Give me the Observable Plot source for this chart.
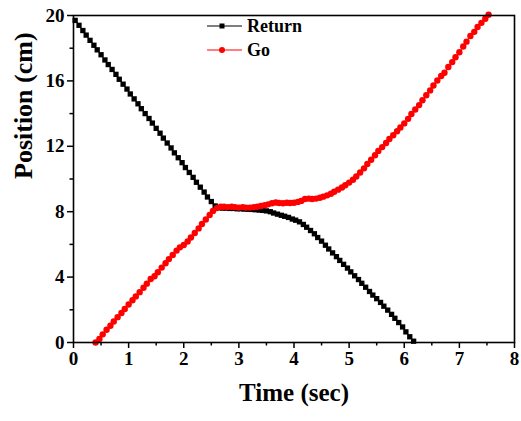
<!DOCTYPE html>
<html>
<head>
<meta charset="utf-8">
<script src="https://cdn.jsdelivr.net/npm/d3@7"></script>
<script src="https://cdn.jsdelivr.net/npm/@observablehq/plot@0.6"></script>
<style>
  html, body { margin: 0; padding: 0; background: white; }
</style>
</head>
<body>
<div id="chart"></div>
<script>
// ---- data ----
const seriesNames = ["Return", "Go"];
const xLabel = "Time (sec)";
const yLabel = "Position (cm)";
const xMajorTicks = [0, 1, 2, 3, 4, 5, 6, 7, 8];
const xMinorTicks = [0.5, 1.5, 2.5, 3.5, 4.5, 5.5, 6.5, 7.5];
const yMajorTicks = [0, 4, 8, 12, 16, 20];
const yMinorTicks = [2, 6, 10, 14, 18];

const returnT = [0.03,0.10,0.17,0.23,0.30,0.37,0.43,0.50,0.57,0.63,0.70,0.77,0.83,0.90,0.97,1.03,1.10,1.17,1.23,1.30,1.37,1.43,1.50,1.57,1.63,1.70,1.77,1.83,1.90,1.97,2.03,2.10,2.17,2.23,2.30,2.37,2.43,2.50,2.57,2.63,2.70,2.77,2.83,2.90,2.97,3.03,3.10,3.17,3.23,3.30,3.37,3.43,3.50,3.57,3.63,3.70,3.77,3.83,3.90,3.97,4.03,4.10,4.17,4.23,4.30,4.37,4.43,4.50,4.57,4.63,4.70,4.77,4.83,4.90,4.97,5.03,5.10,5.17,5.23,5.30,5.37,5.43,5.50,5.57,5.63,5.70,5.77,5.83,5.90,5.97,6.03,6.10,6.17];
const returnY = [19.70,19.40,19.08,18.80,18.48,18.18,17.90,17.60,17.28,17.00,16.70,16.40,16.10,15.80,15.50,15.20,14.90,14.60,14.30,14.00,13.70,13.42,13.10,12.80,12.50,12.20,11.90,11.60,11.30,11.00,10.70,10.40,10.10,9.80,9.50,9.20,8.90,8.62,8.35,8.25,8.22,8.22,8.20,8.20,8.18,8.18,8.16,8.15,8.14,8.12,8.10,8.08,8.05,8.00,7.92,7.85,7.78,7.72,7.65,7.55,7.48,7.38,7.22,7.05,6.85,6.65,6.42,6.20,5.95,5.72,5.48,5.25,5.02,4.78,4.55,4.32,4.08,3.85,3.62,3.38,3.12,2.90,2.68,2.45,2.22,1.98,1.72,1.48,1.22,0.95,0.65,0.35,0.08];

const goT = [0.40,0.47,0.53,0.60,0.67,0.73,0.80,0.87,0.93,1.00,1.07,1.13,1.20,1.27,1.33,1.40,1.47,1.53,1.60,1.67,1.73,1.80,1.87,1.93,2.00,2.07,2.13,2.20,2.27,2.33,2.40,2.47,2.53,2.60,2.67,2.73,2.80,2.87,2.93,3.00,3.07,3.13,3.20,3.27,3.33,3.40,3.47,3.53,3.60,3.67,3.73,3.80,3.87,3.93,4.00,4.07,4.13,4.20,4.27,4.33,4.40,4.47,4.53,4.60,4.67,4.73,4.80,4.87,4.93,5.00,5.07,5.13,5.20,5.27,5.33,5.40,5.47,5.53,5.60,5.67,5.73,5.80,5.87,5.93,6.00,6.07,6.13,6.20,6.27,6.33,6.40,6.47,6.53,6.60,6.67,6.73,6.80,6.87,6.93,7.00,7.07,7.13,7.20,7.27,7.33,7.40,7.47,7.53];
const goY = [0.00,0.22,0.50,0.78,1.02,1.28,1.55,1.80,2.05,2.32,2.58,2.82,3.08,3.35,3.60,3.88,4.05,4.30,4.58,4.85,5.10,5.35,5.62,5.82,5.96,6.18,6.42,6.70,6.98,7.25,7.52,7.80,8.05,8.22,8.30,8.30,8.28,8.30,8.28,8.25,8.28,8.25,8.25,8.28,8.30,8.35,8.40,8.45,8.52,8.56,8.53,8.52,8.55,8.53,8.55,8.60,8.66,8.78,8.80,8.78,8.80,8.85,8.92,9.00,9.10,9.22,9.35,9.48,9.62,9.78,9.95,10.15,10.40,10.65,10.92,11.18,11.45,11.72,11.95,12.20,12.45,12.68,12.92,13.15,13.40,13.68,13.98,14.25,14.52,14.82,15.12,15.42,15.72,16.02,16.30,16.50,16.85,17.15,17.45,17.75,18.10,18.40,18.75,19.00,19.30,19.55,19.80,20.05];

const returnData = returnT.map((t, i) => ({t, y: returnY[i]}));
const goData = goT.map((t, i) => ({t, y: goY[i]}));

const serif = "'Liberation Serif', 'Times New Roman', 'DejaVu Serif', serif";

const chart = Plot.plot({
  width: 521,
  height: 421,
  marginLeft: 73,
  marginRight: 7,
  marginTop: 15,
  marginBottom: 79,
  style: {fontFamily: serif, fontWeight: "bold", fontSize: "18px", background: "white", color: "black", overflow: "visible"},
  x: {domain: [0, 8]},
  y: {domain: [0, 20]},
  marks: [
    Plot.axisX(xMajorTicks, {tickSize: 6, tickPadding: 3, tickFormat: d => String(d), label: null, fontSize: 19, strokeWidth: 1.5}),
    Plot.axisX(xMinorTicks, {tickSize: 3.5, tickFormat: () => "", label: null, strokeWidth: 1.5}),
    Plot.axisY(yMajorTicks, {tickSize: 6, tickPadding: 3, tickFormat: d => String(d), label: null, fontSize: 19, strokeWidth: 1.5}),
    Plot.axisY(yMinorTicks, {tickSize: 3.5, tickFormat: () => "", label: null, strokeWidth: 1.5}),
    Plot.line(returnData, {x: "t", y: "y", stroke: "black", strokeWidth: 1}),
    Plot.dot(returnData, {x: "t", y: "y", symbol: "square", fill: "black", r: 3}),
    Plot.line(goData, {x: "t", y: "y", stroke: "red", strokeWidth: 1}),
    Plot.dot(goData, {x: "t", y: "y", symbol: "circle", fill: "red", r: 3.2}),
    Plot.frame({stroke: "black", strokeWidth: 1.6}),
    Plot.text([xLabel], {frameAnchor: "bottom", dy: 58, fontSize: 25, fontWeight: "bold", fill: "black"}),
    Plot.text([yLabel], {frameAnchor: "left", dx: -50, rotate: -90, fontSize: 26, fontWeight: "bold", fill: "black"})
  ]
});

document.getElementById("chart").appendChild(chart);

// legend drawn inside the frame
const svg = d3.select(chart);
const lg = svg.append("g").attr("font-family", serif).attr("font-weight", "bold").attr("font-size", 18).attr("text-anchor", "start");
const legendItems = [
  {name: seriesNames[0], color: "black", symbol: "square"},
  {name: seriesNames[1], color: "red", symbol: "circle"}
];
legendItems.forEach((d, i) => {
  const yy = 26 + i * 24;
  lg.append("line").attr("x1", 207).attr("x2", 242).attr("y1", yy).attr("y2", yy)
    .attr("stroke", d.color).attr("stroke-width", 1);
  if (d.symbol === "square") {
    lg.append("rect").attr("x", 222 - 2.5).attr("y", yy - 2.5).attr("width", 5).attr("height", 5).attr("fill", d.color);
  } else {
    lg.append("circle").attr("cx", 222).attr("cy", yy).attr("r", 3).attr("fill", d.color);
  }
  lg.append("text").attr("x", 247).attr("y", yy).attr("dy", "0.35em").attr("fill", "black").text(d.name);
});
</script>
</body>
</html>
